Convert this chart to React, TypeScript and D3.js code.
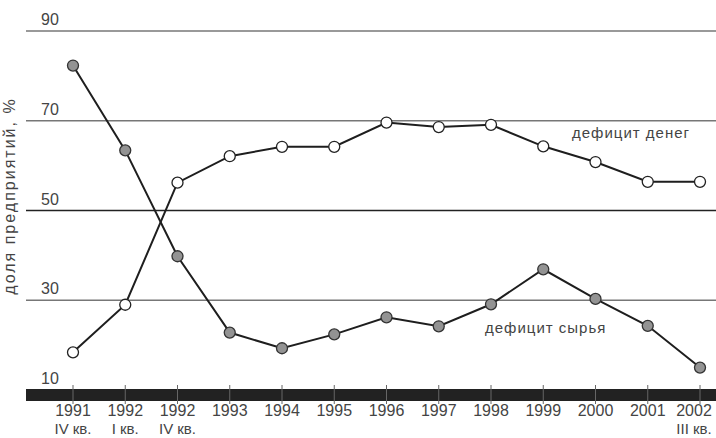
import React from "react";
import * as d3 from "d3";

const categories = ["1991 IV", "1992 I", "1992 IV", "1993", "1994", "1995", "1996", "1997", "1998", "1999", "2000", "2001", "2002 III"];
const yearLabels = ["1991", "1992", "1992", "1993", "1994", "1995", "1996", "1997", "1998", "1999", "2000", "2001", "2002"];
const quarterLabels = ["IV кв.", "I кв.", "IV кв.", "", "", "", "", "", "", "", "", "", "III кв."];
const moneyDeficit = [18.4, 29.0, 56.2, 62.1, 64.2, 64.2, 69.6, 68.6, 69.1, 64.3, 60.8, 56.4, 56.4];
const rawDeficit = [82.3, 63.4, 39.8, 22.8, 19.3, 22.4, 26.2, 24.2, 29.1, 36.9, 30.3, 24.3, 15.0];
const yTicks = [90, 70, 50, 30, 10];

const W = 716;
const H = 438;
const font = "'Liberation Sans', Arial, sans-serif";
const textColor = "#444";

export default function App() {
  const x = d3.scalePoint<string>().domain(categories).range([73, 700]);
  const y = d3.scaleLinear().domain([10, 90]).range([390, 31]);

  const line = d3
    .line<number>()
    .x((d, i) => x(categories[i]) as number)
    .y((d) => y(d));

  return (
    <svg
      width={W}
      height={H}
      style={{ position: "absolute", left: 0, top: 0, background: "#fff" }}
    >
      {/* gridlines + y labels */}
      {yTicks.map((t) => (
        <g key={t}>
          {t > 10 && (
            <line
              x1={26}
              x2={W}
              y1={y(t)}
              y2={y(t)}
              stroke={t === 50 ? "#222" : "#777"}
              strokeWidth={1.3}
            />
          )}
          <text x={41} y={y(t) - 6} fontFamily={font} fontSize={16} fill={textColor}>
            {t}
          </text>
        </g>
      ))}

      {/* bottom band */}
      <rect x={26} y={y(10) - 1} width={W - 26} height={12} fill="#222" />
      {categories.map((c) => (
        <line
          key={c}
          x1={x(c)}
          x2={x(c)}
          y1={y(10) - 5}
          y2={y(10) + 14}
          stroke="#666"
          strokeWidth={1}
        />
      ))}

      {/* x labels */}
      {categories.map((c, i) => {
        const cx = i === categories.length - 1 ? (x(c) as number) - 6 : (x(c) as number);
        return (
          <g key={c} fontFamily={font} fill={textColor} textAnchor="middle">
            <text x={cx} y={416} fontSize={16}>{yearLabels[i]}</text>
            {quarterLabels[i] && (
              <text x={cx} y={434} fontSize={15}>{quarterLabels[i]}</text>
            )}
          </g>
        );
      })}

      {/* y axis title */}
      <text
        transform={`translate(15,${196}) rotate(-90)`}
        textAnchor="middle"
        fontFamily={font}
        fontSize={16}
        letterSpacing={2}
        fill={textColor}
      >
        доля предприятий, %
      </text>

      {/* series */}
      <path d={line(rawDeficit) ?? ""} fill="none" stroke="#1e1e1e" strokeWidth={2} />
      <path d={line(moneyDeficit) ?? ""} fill="none" stroke="#1e1e1e" strokeWidth={2} />
      {rawDeficit.map((v, i) => (
        <circle
          key={"r" + i}
          cx={x(categories[i])}
          cy={y(v)}
          r={5.5}
          fill="#939393"
          stroke="#333"
          strokeWidth={1.3}
        />
      ))}
      {moneyDeficit.map((v, i) => (
        <circle
          key={"m" + i}
          cx={x(categories[i])}
          cy={y(v)}
          r={5.5}
          fill="#fff"
          stroke="#222"
          strokeWidth={1.3}
        />
      ))}

      {/* series labels */}
      <text x={572} y={138} fontFamily={font} fontSize={15} letterSpacing={1} fill={textColor}>
        дефицит денег
      </text>
      <text x={485} y={333} fontFamily={font} fontSize={15} letterSpacing={1} fill={textColor}>
        дефицит сырья
      </text>
    </svg>
  );
}
